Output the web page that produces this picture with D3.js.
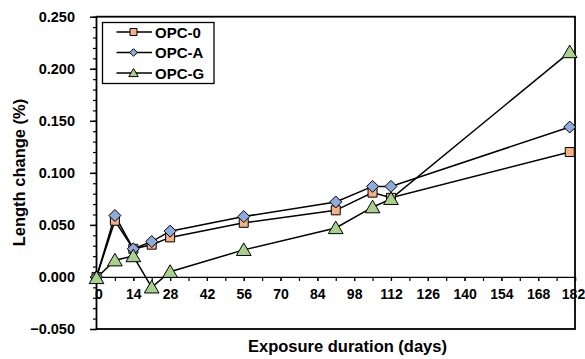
<!DOCTYPE html>
<html>
<head>
<meta charset="utf-8">
<script src="https://cdn.jsdelivr.net/npm/d3@7"></script>
<style>
  body { margin: 0; background: #fff; }
  text { font-family: "Liberation Sans", Arial, sans-serif; font-weight: bold; }
</style>
</head>
<body>
<svg id="chart" width="585" height="359"></svg>
<script>
// data
var days = [0, 7, 14, 21, 28, 56, 91, 105, 112, 180];
var opc0 = [0.000, 0.054, 0.027, 0.031, 0.038, 0.052, 0.064, 0.081, 0.076, 0.120];
var opcA = [0.000, 0.059, 0.027, 0.034, 0.044, 0.058, 0.072, 0.087, 0.087, 0.144];
var opcG = [-0.001, 0.016, 0.020, -0.010, 0.005, 0.026, 0.047, 0.067, 0.075, 0.216];
var seriesNames = ["OPC-0", "OPC-A", "OPC-G"];
var xTicks = [0, 14, 28, 42, 56, 70, 84, 98, 112, 126, 140, 154, 168, 182];
var yTicks = [-0.05, 0, 0.05, 0.1, 0.15, 0.2, 0.25];

var svg = d3.select("#chart");
var plotLeft = 96.5, plotRight = 575, plotTop = 16.7, plotBottom = 329;

var x = d3.scaleLinear().domain([0, 182]).range([plotLeft, plotRight]);
var y = d3.scaleLinear().domain([-0.05, 0.25]).range([plotBottom, plotTop]);

// marker shapes, drawn as plain path strings
function squarePath(s){ return "M" + (-s) + "," + (-s) + "H" + s + "V" + s + "H" + (-s) + "Z"; }
function diamondPath(s){ return "M0," + (-s) + "L" + s + ",0L0," + s + "L" + (-s) + ",0Z"; }
function trianglePath(s){ return "M0," + (-s) + "L" + (s * 1.05) + "," + (s * 0.8) + "L" + (-s * 1.05) + "," + (s * 0.8) + "Z"; }

var styles = [
  {fill: "#F4B183", d: squarePath(4.5), small: squarePath(3.5)},
  {fill: "#8FAADC", d: diamondPath(6), small: diamondPath(3.8)},
  {fill: "#A9D18E", d: trianglePath(7), small: trianglePath(4.5)}
];
var allSeries = [opc0, opcA, opcG];

function boldText(sel, size){
  sel.attr("font-size", size).attr("fill", "#000")
    .style("font-family", "Liberation Sans, Arial, sans-serif").style("font-weight", "bold");
}

// y axis with minor ticks
var yMinor = d3.range(-0.05, 0.2501, 0.01);
svg.append("g")
  .attr("transform", "translate(" + plotLeft + ",0)")
  .call(d3.axisLeft(y).tickValues(yMinor).tickSize(3.5).tickFormat(""))
  .call(function(g){ g.select(".domain").remove(); })
  .selectAll("line").attr("stroke", "#000").attr("stroke-width", 1.2);
var yAxis = svg.append("g")
  .attr("transform", "translate(" + plotLeft + ",0)")
  .call(d3.axisLeft(y).tickValues(yTicks).tickSize(6.5).tickPadding(15).tickFormat(d3.format(".3f")));
yAxis.select(".domain").remove();
yAxis.selectAll("line").attr("stroke", "#000").attr("stroke-width", 1.5);
boldText(yAxis.selectAll("text"), 14.5);

// x axis along y = 0
var xMinor = d3.range(0, 183, 7);
svg.append("g")
  .attr("transform", "translate(0," + y(0) + ")")
  .call(d3.axisBottom(x).tickValues(xMinor).tickSize(4).tickFormat(""))
  .call(function(g){ g.select(".domain").attr("stroke", "#000").attr("stroke-width", 1.2); })
  .selectAll("line").attr("stroke", "#000").attr("stroke-width", 1.2);
var xAxis = svg.append("g")
  .attr("transform", "translate(0," + y(0) + ")")
  .call(d3.axisBottom(x).tickValues(xTicks).tickSize(4).tickPadding(8).tickFormat(d3.format("d")));
xAxis.select(".domain").remove();
xAxis.selectAll("line").attr("stroke", "#000").attr("stroke-width", 1.2);
boldText(xAxis.selectAll("text"), 14);
xAxis.selectAll("text").filter(function(d){ return d === 0; }).attr("dx", 2);
xAxis.selectAll("text").filter(function(d){ return d === 182; }).attr("dx", -2);

// frame
svg.append("rect")
  .attr("x", plotLeft).attr("y", plotTop)
  .attr("width", plotRight - plotLeft).attr("height", plotBottom - plotTop)
  .attr("fill", "none").attr("stroke", "#000").attr("stroke-width", 1.8);

// lines and markers
var line = d3.line()
  .x(function(d, i){ return x(days[i]); })
  .y(function(d){ return y(d); });

allSeries.forEach(function(vals, k){
  svg.append("path")
    .datum(vals)
    .attr("d", line)
    .attr("fill", "none")
    .attr("stroke", "#000")
    .attr("stroke-width", 1.5);
});
allSeries.forEach(function(vals, k){
  var st = styles[k];
  svg.selectAll(".m" + k)
    .data(vals)
    .enter().append("path")
      .attr("class", "m" + k)
      .attr("d", st.d)
      .attr("transform", function(d, i){
        return "translate(" + x(days[i]) + "," + y(d) + ")";
      })
      .attr("fill", st.fill)
      .attr("stroke", "#000")
      .attr("stroke-width", 1);
});

// legend
var legend = svg.append("g");
legend.append("rect")
  .attr("x", 102.5).attr("y", 22.5).attr("width", 111.5).attr("height", 61)
  .attr("fill", "#fff").attr("stroke", "#000").attr("stroke-width", 1.3);
seriesNames.forEach(function(name, k){
  var ly = 32 + k * 20.5;
  var st = styles[k];
  legend.append("line")
    .attr("x1", 116.5).attr("x2", 152).attr("y1", ly).attr("y2", ly)
    .attr("stroke", "#000").attr("stroke-width", 1.5);
  legend.append("path")
    .attr("d", st.small)
    .attr("transform", "translate(133.5," + ly + ")")
    .attr("fill", st.fill).attr("stroke", "#000").attr("stroke-width", 1);
  boldText(legend.append("text")
    .attr("x", 155).attr("y", ly + 5.5)
    .text(name), 15);
});

// axis titles
boldText(svg.append("text")
  .attr("x", 347.5).attr("y", 352)
  .attr("text-anchor", "middle")
  .text("Exposure duration (days)"), 16.5);
boldText(svg.append("text")
  .attr("transform", "translate(25,172.5) rotate(-90)")
  .attr("text-anchor", "middle")
  .text("Length change (%)"), 16.5);
</script>
</body>
</html>
